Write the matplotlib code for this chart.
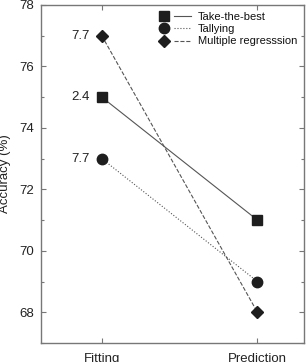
import matplotlib.pyplot as plt
from matplotlib.lines import Line2D
from matplotlib.legend_handler import HandlerTuple

plt.rcParams['font.family'] = ['Liberation Sans', 'DejaVu Sans']

conditions = ['Fitting', 'Prediction']
series = ['Take-the-best', 'Tallying', 'Multiple regresssion']
ttb = [75, 71]
tallying = [73, 69]
mult_reg = [77, 68]
fit_labels = ['2.4', '7.7', '7.7']

values = [ttb, tallying, mult_reg]
markers = ['s', 'o', 'D']
styles = ['-', ':', '--']
sizes = [7.5, 7.5, 6.5]

fig = plt.figure(figsize=(3.07, 3.62), dpi=100)
ax = fig.add_axes([0.1336, 0.0525, 0.857, 0.934])

x = range(len(conditions))
handles = []
for vals, m, ls, ms, lab in zip(values, markers, styles, sizes, fit_labels):
    ax.plot(x, vals, color='#555555', lw=0.8, ls=ls, zorder=1)
    ax.plot(x, vals, ls='none', marker=m, ms=ms, color='#1e1e1e', zorder=2)
    ax.annotate(lab, (0, vals[0]), xytext=(-9, 0), textcoords='offset points',
                ha='right', va='center', fontsize=9.5, color='#222222')
    handles.append((Line2D([], [], ls='none', marker=m, ms=ms, color='#1e1e1e'),
                    Line2D([], [], color='#555555', lw=0.8, ls=ls)))

ax.set_xlim(-0.39, 1.30)
ax.set_ylim(67, 78)
ax.set_xticks(list(x))
ax.set_xticklabels(conditions)
ax.set_yticks([68, 70, 72, 74, 76, 78])
ax.set_yticks([67, 69, 71, 73, 75, 77], minor=True)
ax.tick_params(which='both', direction='in', width=0.8, color='#777777',
               right=True, top=True)
ax.tick_params(which='major', length=3.5, labelsize=9.5, labelcolor='#222222', pad=5)
ax.tick_params(which='minor', length=2.5)
ax.tick_params(axis='x', pad=7)
for s in ax.spines.values():
    s.set_color('#777777')
    s.set_linewidth(1.0)
ax.set_ylabel('Accuracy (%)', fontsize=9.5, color='#222222', labelpad=6)

ax.legend(handles, series, handler_map={tuple: HandlerTuple(ndivide=None, pad=0.15)},
          loc='upper right', frameon=False, fontsize=8, handlelength=3.2,
          handletextpad=0.6, labelspacing=0.22, borderaxespad=0.2,
          labelcolor='#111111')

fig.savefig('out.png', dpi=100)
